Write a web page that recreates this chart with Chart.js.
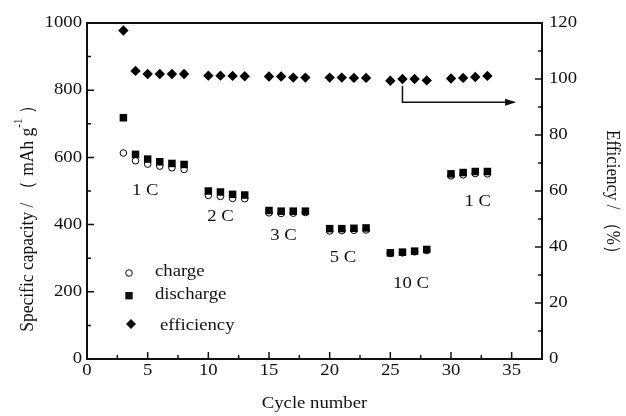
<!DOCTYPE html>
<html>
<head>
<meta charset="utf-8">
<script src="https://cdn.jsdelivr.net/npm/chart.js@4/dist/chart.umd.min.js"></script>
<style>
  html, body { margin: 0; padding: 0; background: #fff; }
  #wrap { width: 626px; height: 416px; position: relative; }
</style>
</head>
<body>
<div id="wrap"><canvas id="chart"></canvas></div>
<script>
// rate capability: cycle number vs. capacity and coulombic efficiency
const cycles = [3, 4, 5, 6, 7, 8, 10, 11, 12, 13, 15, 16, 17, 18, 20, 21, 22, 23, 25, 26, 27, 28, 30, 31, 32, 33];
const charge = [613, 590, 580, 574, 569, 564, 487, 484, 478, 477, 435, 433, 434, 436, 381, 382, 383, 384, 314, 316, 319, 323, 545, 548, 552, 551];
const discharge = [718, 609, 595, 587, 582, 579, 500, 497, 490, 488, 442, 440, 440, 440, 388, 388, 389, 390, 316, 318, 321, 326, 551, 555, 558, 558];
const efficiency = [117.3, 102.9, 101.8, 101.8, 101.8, 101.8, 101.2, 101.2, 101.1, 101.0, 100.9, 100.9, 100.5, 100.5, 100.5, 100.5, 100.4, 100.4, 99.4, 100.0, 100.0, 99.5, 100.2, 100.4, 100.7, 101.1];

const xTicks = [0, 5, 10, 15, 20, 25, 30, 35];
const capTicks = [0, 200, 400, 600, 800, 1000];
const effTicks = [0, 20, 40, 60, 80, 100, 120];

// C-rate labels, anchored in (cycle, capacity) units
const rateNames = ['1 C', '2 C', '3 C', '5 C', '10 C', '1 C'];
const rateCycle = [4.8, 11.0, 16.2, 21.1, 26.7, 32.2];
const rateCap = [500, 423, 366, 300, 223, 467];

// arrow pointing the efficiency points to the right-hand axis: (cycle, efficiency)
const arrowPath = [[26, 97.6], [26, 91.7], [35.2, 91.7]];

const serif = '"Liberation Serif", "DejaVu Serif", serif';
const ink = '#111';
const WIDE = 1.17; // the serif text here runs a little wide

function fixTicks(values) {
  return scale => { scale.ticks = values.map(v => ({ value: v })); };
}

// horizontal text, slightly widened
function wideText(ctx, text, x, y, align) {
  ctx.save();
  ctx.translate(x, y);
  ctx.scale(WIDE, 1);
  ctx.textAlign = align || 'left';
  ctx.fillText(text, 0, 0);
  ctx.restore();
}

const decorations = {
  id: 'decorations',
  afterDraw(chart) {
    const ctx = chart.ctx;
    const { left, right, top, bottom } = chart.chartArea;
    const x = chart.scales.x, y = chart.scales.y, y1 = chart.scales.y1;
    ctx.save();
    ctx.strokeStyle = ink;
    ctx.fillStyle = ink;

    // frame
    ctx.lineWidth = 2;
    ctx.strokeRect(left, top, right - left, bottom - top);

    // inward ticks
    ctx.lineWidth = 1.5;
    ctx.beginPath();
    for (let v = 0; v <= 37.5; v += 2.5) {
      const px = x.getPixelForValue(v);
      const len = v % 5 === 0 ? 7 : 4;
      ctx.moveTo(px, bottom); ctx.lineTo(px, bottom - len);
    }
    for (let v = 0; v <= 1000; v += 100) {
      const py = y.getPixelForValue(v);
      const len = v % 200 === 0 ? 7 : 4;
      ctx.moveTo(left, py); ctx.lineTo(left + len, py);
    }
    for (let v = 0; v <= 120; v += 10) {
      const py = y1.getPixelForValue(v);
      const len = v % 20 === 0 ? 7 : 4;
      ctx.moveTo(right, py); ctx.lineTo(right - len, py);
    }
    ctx.stroke();

    // tick labels
    ctx.font = '16px ' + serif;
    ctx.textBaseline = 'middle';
    xTicks.forEach(v => wideText(ctx, String(v), x.getPixelForValue(v), bottom + 12, 'center'));
    capTicks.forEach(v => wideText(ctx, String(v), left - 5, y.getPixelForValue(v), 'right'));
    effTicks.forEach(v => wideText(ctx, String(v), right + 7, y1.getPixelForValue(v), 'left'));

    // rate labels
    rateNames.forEach((t, i) => {
      wideText(ctx, t, x.getPixelForValue(rateCycle[i]), y.getPixelForValue(rateCap[i]), 'center');
    });

    // arrow
    ctx.lineWidth = 1.5;
    ctx.beginPath();
    arrowPath.forEach((p, i) => {
      const px = x.getPixelForValue(p[0]), py = y1.getPixelForValue(p[1]);
      if (i === 0) ctx.moveTo(px, py); else ctx.lineTo(px, py);
    });
    ctx.stroke();
    const tip = arrowPath[arrowPath.length - 1];
    const tx = x.getPixelForValue(tip[0]), ty = y1.getPixelForValue(tip[1]);
    ctx.beginPath();
    ctx.moveTo(tx + 2, ty);
    ctx.lineTo(tx - 9, ty - 3.5);
    ctx.lineTo(tx - 9, ty + 3.5);
    ctx.closePath();
    ctx.fill();

    // legend
    ctx.lineWidth = 1;
    ctx.beginPath();
    ctx.arc(129, 273, 3.3, 0, Math.PI * 2);
    ctx.stroke();
    wideText(ctx, 'charge', 155, 272);
    ctx.fillRect(125.3, 292, 7.4, 7.4);
    wideText(ctx, 'discharge', 155, 295);
    ctx.beginPath();
    ctx.moveTo(131, 319); ctx.lineTo(136, 324); ctx.lineTo(131, 329); ctx.lineTo(126, 324);
    ctx.closePath();
    ctx.fill();
    wideText(ctx, 'efficiency', 160, 326);

    // x title
    wideText(ctx, 'Cycle number', (left + right) / 2, 404, 'center');

    // left title with superscript
    ctx.save();
    ctx.translate(28, 214);
    ctx.rotate(-Math.PI / 2);
    ctx.scale(1, 1.1);
    const main = 'Specific capacity / \uFF08 mAh g';
    const sup = '-1';
    const tail = ' \uFF09';
    ctx.font = '17.5px ' + serif;
    const wMain = ctx.measureText(main).width;
    const wTail = ctx.measureText(tail).width;
    ctx.font = '11px ' + serif;
    const wSup = ctx.measureText(sup).width;
    let cx = -(wMain + wSup + wTail) / 2;
    ctx.textAlign = 'left';
    ctx.font = '17.5px ' + serif;
    ctx.fillText(main, cx, 0);
    cx += wMain;
    ctx.font = '11px ' + serif;
    ctx.fillText(sup, cx, -8);
    cx += wSup;
    ctx.font = '17.5px ' + serif;
    ctx.fillText(tail, cx, 0);
    ctx.restore();

    // right title
    ctx.save();
    ctx.translate(612, 196);
    ctx.rotate(Math.PI / 2);
    ctx.scale(1, 1.1);
    ctx.font = '17px ' + serif;
    ctx.textAlign = 'center';
    ctx.fillText('Efficiency / \uFF08%\uFF09', 0, 0);
    ctx.restore();

    ctx.restore();
  }
};

new Chart(document.getElementById('chart'), {
  type: 'scatter',
  data: {
    datasets: [
      {
        label: 'discharge',
        data: cycles.map((c, i) => ({ x: c, y: discharge[i] })),
        yAxisID: 'y',
        pointStyle: 'rect',
        pointRadius: 5.3,
        backgroundColor: '#000',
        borderWidth: 0,
        order: 0
      },
      {
        label: 'charge',
        data: cycles.map((c, i) => ({ x: c, y: charge[i] })),
        yAxisID: 'y',
        pointStyle: 'circle',
        pointRadius: 3.3,
        backgroundColor: '#fff',
        borderColor: '#000',
        borderWidth: 1,
        order: 1
      },
      {
        label: 'efficiency',
        data: cycles.map((c, i) => ({ x: c, y: efficiency[i] })),
        yAxisID: 'y1',
        pointStyle: 'rectRot',
        pointRadius: 5.2,
        backgroundColor: '#000',
        borderWidth: 0,
        order: 2
      }
    ]
  },
  options: {
    responsive: true,
    maintainAspectRatio: false,
    animation: false,
    events: [],
    layout: { padding: { top: 23 } },
    plugins: { legend: { display: false }, tooltip: { enabled: false } },
    scales: {
      x: {
        type: 'linear', min: 0, max: 37.5,
        afterBuildTicks: fixTicks(xTicks),
        afterFit: s => { s.height = 57; },
        grid: { display: false, drawTicks: false },
        border: { display: false },
        ticks: { display: false }
      },
      y: {
        position: 'left', min: 0, max: 1000,
        afterBuildTicks: fixTicks(capTicks),
        afterFit: s => { s.width = 87; },
        grid: { display: false, drawTicks: false },
        border: { display: false },
        ticks: { display: false }
      },
      y1: {
        position: 'right', min: 0, max: 120,
        afterBuildTicks: fixTicks(effTicks),
        afterFit: s => { s.width = 84; },
        grid: { display: false, drawTicks: false },
        border: { display: false },
        ticks: { display: false }
      }
    }
  },
  plugins: [decorations]
});
</script>
</body>
</html>
